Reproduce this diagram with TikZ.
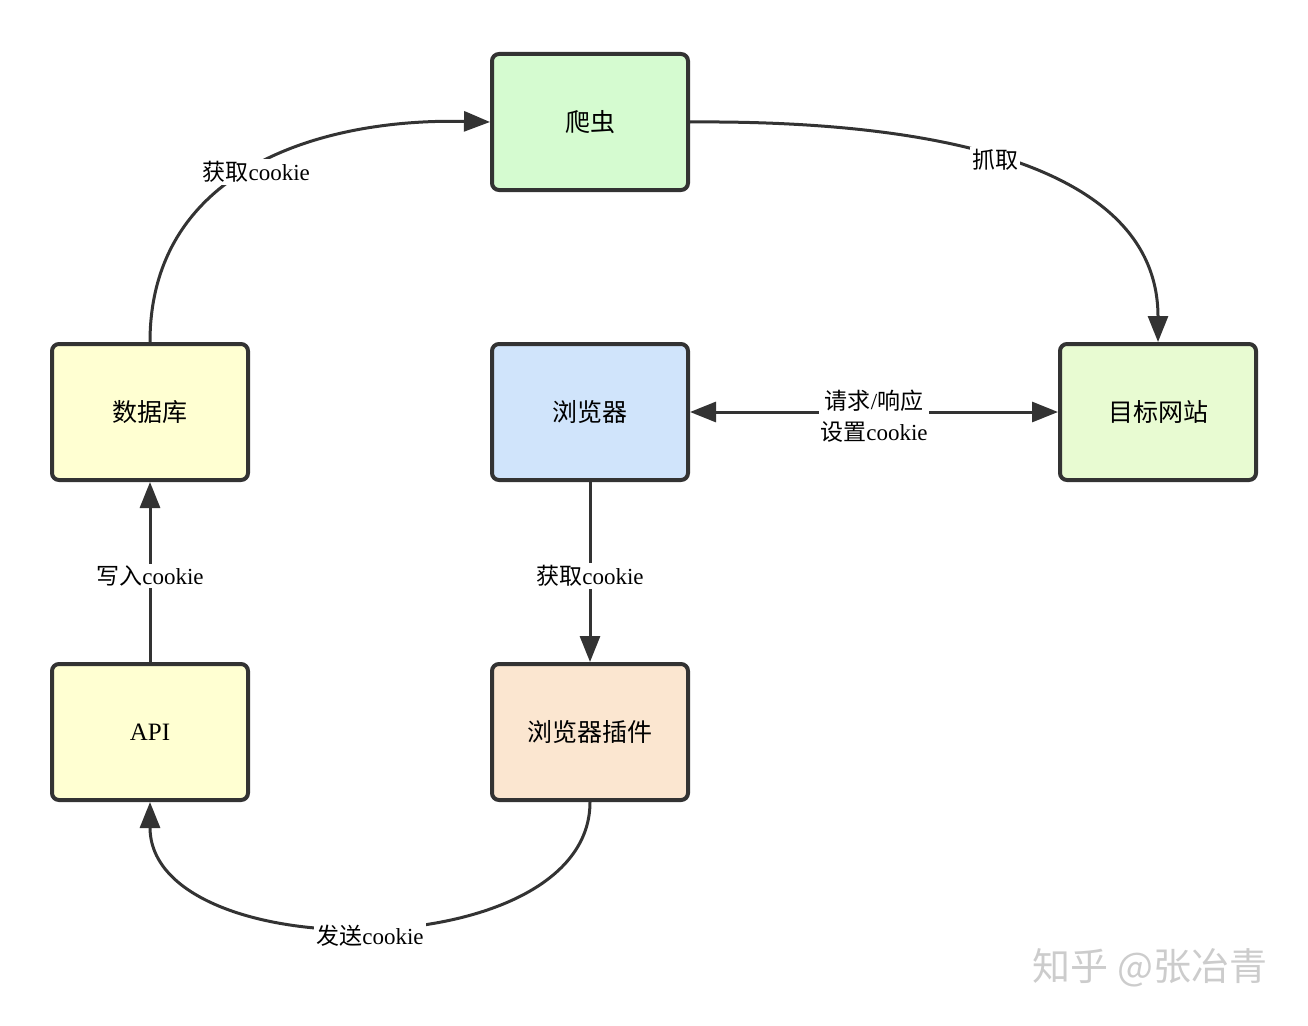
\documentclass[tikz,border=0pt]{standalone}
\usepackage{fontspec}
\setmainfont{Liberation Serif}
\newfontfamily\cjk{Noto Sans CJK SC}
\usetikzlibrary{arrows.meta}
\definecolor{edgegray}{HTML}{333333}
\definecolor{spidergreen}{HTML}{D5FBD0}
\definecolor{dbyellow}{HTML}{FFFFD2}
\definecolor{browserblue}{HTML}{D0E4FB}
\definecolor{sitegreen}{HTML}{E8FBD2}
\definecolor{pluginorange}{HTML}{FBE6D0}
\begin{document}
\begin{tikzpicture}[x=1pt,y=-1pt,
    box/.style={draw=edgegray, line width=4pt, rounded corners=7pt,
                minimum width=196pt, minimum height=136pt, font=\fontsize{25}{30}\selectfont},
    link/.style={draw=edgegray, line width=3pt, -{Triangle[length=26pt,width=20pt]}},
    tag/.style={fill=white, inner sep=2pt, font=\fontsize{23}{27}\selectfont, align=center}]
    \useasboundingbox (0,0) rectangle (1308,1025);

    % Boxes
    \node[box, fill=spidergreen] (spider) at (590,122) {\cjk 爬虫};
    \node[box, fill=dbyellow] (db) at (150,412) {\cjk 数据库};
    \node[box, fill=browserblue] (browser) at (590,412) {\cjk 浏览器};
    \node[box, fill=sitegreen] (site) at (1158,412) {\cjk 目标网站};
    \node[box, fill=dbyellow] (api) at (150,732) {API};
    \node[box, fill=pluginorange] (plugin) at (590,732) {\cjk 浏览器插件};

    % Database -> spider
    \draw[link] (db.north) .. controls (150,170) and (320,118) .. (spider.west)
        node[tag, pos=0.5, yshift=-6pt] (get1) {{\cjk 获取}cookie};

    % Spider -> target site
    \draw[link] (spider.east) .. controls (950,120) and (1158,170) .. (site.north)
        node[tag, pos=0.45, yshift=-2pt] (crawl) {\cjk 抓取};

    % Browser <-> target site
    \draw[link, {Triangle[length=26pt,width=20pt]}-{Triangle[length=26pt,width=20pt]}]
        (browser.east) -- (site.west)
        node[tag, midway, yshift=-4pt, inner sep=1pt, font=\fontsize{23}{31}\selectfont] (req)
        {{\cjk 请求}/{\cjk 响应}\\{\cjk 设置}cookie};

    % Browser -> plugin
    \draw[link] (browser.south) -- (plugin.north)
        node[tag, midway, yshift=-4pt] (get2) {{\cjk 获取}cookie};

    % Plugin -> API
    \draw[link] (plugin.south) .. controls (590,968) and (150,968) .. (api.south)
        node[tag, pos=0.5, yshift=-9pt] (send) {{\cjk 发送}cookie};

    % API -> database
    \draw[link] (api.north) -- (db.south)
        node[tag, midway, yshift=-4pt] (write) {{\cjk 写入}cookie};

    % Watermark
    \node[text=gray!40, font=\cjk\fontsize{38}{42}\selectfont] (mark) at (1150,968) {知乎 @张冶青};
\end{tikzpicture}
\end{document}
